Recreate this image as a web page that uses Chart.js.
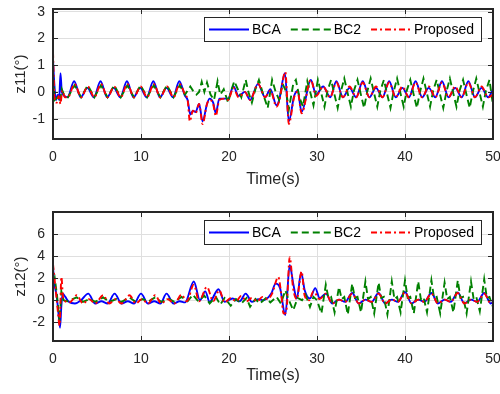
<!DOCTYPE html>
<html>
<head>
<title>z11 / z12 tracking errors</title>
<script src="https://cdn.jsdelivr.net/npm/chart.js"></script>
<style>
    body {
        margin: 0;
        background-color: #ffffff;
    }
    .wrap {
        position: absolute;
        left: 0;
        width: 500px;
        height: 197px;
    }
</style>
</head>
<body>
<div class="wrap" style="top:0px"><canvas id="topChart" width="500" height="197"></canvas></div>
<div class="wrap" style="top:197px"><canvas id="bottomChart" width="500" height="197"></canvas></div>
<script>
// ---- data: [time (s), value] ----
const seriesNames = ["BCA", "BC2", "Proposed"];
const xTicks = [0, 10, 20, 30, 40, 50];
const z11Ticks = [-1, 0, 1, 2, 3];
const z12Ticks = [-2, 0, 2, 4, 6];

// z11, BCA
const z11Bca = [[0,1.2],[0.15,0.3],[0.35,-0.3],[0.55,-0.1],[0.7,-0.3],[0.85,0.7],[1.0,0.0],[1.3,-0.15],[1.65,-0.2],
    [2.4,0.4],[3.15,-0.2],[3.9,0.15],[4.65,-0.2],[5.4,0.4],[6.15,-0.2],[6.9,0.15],[7.65,-0.2],[8.4,0.4],[9.15,-0.2],
    [9.9,0.15],[10.65,-0.2],[11.4,0.4],[12.15,-0.2],[12.9,0.15],[13.65,-0.2],[14.35,0.4],[15.0,-0.15],[15.3,-0.3],
    [15.6,-0.85],[15.9,-0.7],[16.2,-0.75],[16.6,-0.45],[17.0,-1.1],[17.5,-0.45],[17.8,-0.25],[18.2,-0.4],[18.5,-0.8],
    [18.9,-0.25],[19.5,-0.25],[19.9,-0.25],[20.5,0.2],[21.1,-0.15],[21.8,0.0],[22.4,-0.3],[23.3,0.3],[24.1,-0.2],
    [24.7,0.1],[25.4,-0.5],[25.7,-0.3],[26.35,0.7],[26.8,-1.1],[27.4,-0.15],[27.8,0.05],[28.25,-0.75],[29.3,0.45],
    [29.9,-0.1],[30.7,0.2],[31.5,-0.2],[32.2,0.4],[32.95,-0.2],[33.7,0.15],[34.45,-0.2],[35.2,0.4],[35.95,-0.2],
    [36.7,0.15],[37.45,-0.2],[38.2,0.4],[38.95,-0.2],[39.7,0.15],[40.45,-0.2],[41.2,0.4],[41.95,-0.2],[42.7,0.15],
    [43.45,-0.2],[44.2,0.4],[44.95,-0.2],[45.7,0.15],[46.45,-0.2],[47.2,0.4],[47.95,-0.2],[48.7,0.15],[49.45,-0.2],[50,0.1]];

// z11, BC2
const z11Bc2 = [[0,0.6],[0.2,-0.3],[0.5,-0.2],[0.8,-0.35],[1.0,0.1],[1.3,-0.15],[1.7,-0.2],[2.45,0.25],[3.2,-0.2],
    [3.95,0.25],[4.7,-0.2],[5.45,0.25],[6.2,-0.2],[6.95,0.25],[7.7,-0.2],[8.45,0.25],[9.2,-0.2],[9.95,0.25],[10.7,-0.2],
    [11.45,0.25],[12.2,-0.2],[12.95,0.25],[13.7,-0.2],[14.4,0.25],[15.0,-0.1],[15.6,0.2],[15.9,0.05],[16.3,-0.1],
    [16.6,0.0],[16.9,0.38],[17.2,0.0],[17.5,0.35],[17.9,-0.1],[18.3,-0.3],[18.7,0.4],[19.0,-0.1],[19.4,0.1],[19.9,-0.4],
    [20.3,0.1],[20.6,0.4],[21.0,0.1],[21.4,-0.2],[21.9,0.45],[22.2,0.0],[22.6,-0.4],[23.0,0.1],[23.4,0.45],[23.8,0.0],
    [24.4,-0.6],[24.9,0.45],[25.3,0.0],[25.7,-0.3],[26.1,0.3],[26.5,0.0],[26.8,-0.65],[27.3,0.3],[27.6,0.45],[28.0,-0.2],
    [28.4,-0.55],[28.9,0.4],[29.3,-0.1],[29.6,-0.5],[30.1,0.45],[30.45,0.0],[30.85,-0.55],[31.2,0.05],[31.6,0.45],
    [31.95,-0.05],[32.35,-0.6],[32.7,0.0],[33.1,0.5],[33.45,0.0],[33.85,-0.55],[34.2,0.05],[34.6,0.45],[34.95,-0.05],
    [35.35,-0.6],[35.7,0.0],[36.1,0.5],[36.45,0.0],[36.85,-0.55],[37.2,0.05],[37.6,0.45],[37.95,-0.05],[38.35,-0.6],
    [38.7,0.0],[39.1,0.5],[39.45,0.0],[39.85,-0.55],[40.2,0.05],[40.6,0.45],[40.95,-0.05],[41.35,-0.6],[41.7,0.0],
    [42.1,0.5],[42.45,0.0],[42.85,-0.55],[43.2,0.05],[43.6,0.45],[43.95,-0.05],[44.35,-0.6],[44.7,0.0],[45.1,0.5],
    [45.45,0.0],[45.85,-0.55],[46.2,0.05],[46.6,0.45],[46.95,-0.05],[47.35,-0.6],[47.7,0.0],[48.1,0.5],[48.45,0.0],
    [48.85,-0.55],[49.2,0.05],[49.6,0.45],[50,-0.5]];

// z11, Proposed
const z11Prop = [[0,1.5],[0.2,-0.35],[0.45,-0.4],[0.65,-0.15],[0.85,-0.45],[1.05,0.05],[1.35,-0.2],[1.7,-0.2],
    [2.45,0.3],[3.2,-0.2],[3.95,0.2],[4.7,-0.2],[5.45,0.3],[6.2,-0.2],[6.95,0.2],[7.7,-0.2],[8.45,0.3],[9.2,-0.2],
    [9.95,0.2],[10.7,-0.2],[11.45,0.3],[12.2,-0.2],[12.95,0.2],[13.7,-0.2],[14.4,0.3],[15.0,-0.1],[15.3,-0.3],
    [15.55,-1.1],[15.9,-0.7],[16.2,-0.8],[16.6,-0.45],[17.0,-1.2],[17.5,-0.45],[17.8,-0.3],[18.2,-0.45],[18.5,-0.9],
    [18.9,-0.3],[19.5,-0.25],[19.9,-0.3],[20.5,0.15],[21.1,-0.2],[21.8,0.0],[22.4,-0.3],[23.3,0.3],[24.1,-0.2],
    [24.7,0.05],[25.4,-0.55],[25.7,-0.35],[26.4,0.75],[26.8,-1.2],[27.4,-0.2],[27.8,0.0],[28.25,-0.8],[29.3,0.45],
    [29.9,-0.15],[30.7,0.2],[31.5,-0.2],[32.2,0.35],[32.95,-0.2],[33.7,0.2],[34.45,-0.2],[35.2,0.35],[35.95,-0.2],
    [36.7,0.2],[37.45,-0.2],[38.2,0.35],[38.95,-0.2],[39.7,0.2],[40.45,-0.2],[41.2,0.35],[41.95,-0.2],[42.7,0.2],
    [43.45,-0.2],[44.2,0.35],[44.95,-0.2],[45.7,0.2],[46.45,-0.2],[47.2,0.35],[47.95,-0.2],[48.7,0.2],[49.45,-0.2],[50,-0.1]];

// z12, BCA
const z12Bca = [[0,3.0],[0.15,1.5],[0.4,0.5],[0.6,-1.0],[0.8,-2.5],[0.95,-0.5],[1.1,0.6],[1.4,0.3],[1.8,-0.15],
    [2.5,-0.3],[3.2,0.0],[4.0,0.6],[4.8,-0.3],[5.5,-0.1],[6.2,-0.3],[7.0,0.6],[7.8,-0.3],[8.5,-0.1],[9.2,-0.3],
    [10.0,0.6],[10.8,-0.3],[11.5,-0.1],[12.2,-0.3],[12.9,0.6],[13.7,-0.3],[14.4,-0.1],[15.0,-0.2],[16.0,1.7],
    [16.7,0.0],[17.3,0.8],[17.8,-0.15],[18.8,1.0],[19.5,-0.15],[20.4,0.15],[21.2,-0.1],[21.9,0.6],[22.6,-0.15],
    [23.3,0.1],[23.9,0.0],[24.8,0.6],[25.3,1.5],[25.8,1.1],[26.4,-1.35],[26.9,3.2],[27.3,1.5],[27.7,0.15],[28.2,2.5],
    [28.6,0.9],[29.2,0.15],[29.8,1.1],[30.3,0.2],[31.0,0.6],[31.75,-0.3],[32.5,0.05],[33.2,-0.15],[34.0,0.65],
    [34.75,-0.3],[35.5,0.05],[36.2,-0.15],[37.0,0.65],[37.75,-0.3],[38.5,0.05],[39.2,-0.15],[40.0,0.75],[40.75,-0.3],
    [41.5,0.05],[42.2,-0.15],[43.0,0.65],[43.75,-0.3],[44.5,0.05],[45.2,-0.15],[46.0,0.7],[46.75,-0.3],[47.5,0.05],
    [48.2,-0.15],[49.0,0.65],[49.75,-0.3],[50,-0.1]];

// z12, BC2
const z12Bc2 = [[0,1.5],[0.2,2.0],[0.45,0.5],[0.75,-2.0],[0.95,0.8],[1.2,0.0],[1.6,-0.1],[2.7,0.25],[3.4,-0.15],
    [4.2,0.1],[4.8,-0.15],[5.7,0.25],[6.4,-0.15],[7.2,0.1],[7.8,-0.15],[8.7,0.25],[9.4,-0.15],[10.2,0.1],[10.8,-0.15],
    [11.6,0.25],[12.3,-0.15],[13.2,0.1],[13.8,-0.15],[14.6,0.3],[15.3,-0.1],[15.9,0.5],[16.5,-0.1],[17.2,0.4],
    [17.8,-0.3],[18.5,0.3],[19.0,-0.4],[19.5,0.2],[20.2,-0.5],[20.8,0.1],[21.4,-0.3],[22.0,0.2],[22.4,-0.6],[23.0,0.1],
    [23.5,-0.3],[24.2,0.2],[24.7,-0.2],[25.4,0.3],[25.9,-0.3],[26.4,0.9],[26.8,0.0],[27.3,-0.9],[27.8,0.2],[28.3,0.0],
    [28.7,0.5],[29.2,-0.6],[29.6,0.3],[30.0,0.0],[30.5,-1.2],[31.0,1.4],[31.3,0.2],[31.6,0.3],[32.0,-1.1],[32.5,1.2],
    [32.8,0.1],[33.1,0.3],[33.5,-1.3],[34.0,1.5],[34.3,0.2],[34.6,0.3],[35.0,-1.1],[35.5,1.7],[35.8,0.1],[36.1,0.3],
    [36.5,-1.2],[37.0,1.6],[37.3,0.2],[37.6,0.3],[38.0,-1.3],[38.5,1.7],[38.8,0.1],[39.1,0.3],[39.5,-1.1],[40.0,1.8],
    [40.3,0.2],[40.6,0.3],[41.0,-1.2],[41.5,1.7],[41.8,0.1],[42.1,0.3],[42.5,-1.1],[43.0,1.8],[43.3,0.2],[43.6,0.3],
    [44.0,-1.2],[44.5,1.6],[44.8,0.1],[45.1,0.3],[45.5,-1.1],[46.0,1.8],[46.3,0.2],[46.6,0.3],[47.0,-1.2],[47.5,1.7],
    [47.8,0.1],[48.1,0.3],[48.5,-1.0],[49.0,1.9],[49.3,0.2],[49.6,0.3],[50,-0.6]];

// z12, Proposed
const z12Prop = [[0,3.3],[0.1,2.5],[0.3,1.0],[0.55,-1.0],[0.75,-2.3],[0.95,2.1],[1.15,0.2],[1.4,-0.1],[1.9,-0.2],
    [2.7,0.45],[3.4,-0.3],[4.1,0.1],[4.8,-0.3],[5.7,0.45],[6.4,-0.3],[7.1,0.1],[7.8,-0.3],[8.7,0.45],[9.4,-0.3],
    [10.1,0.1],[10.8,-0.3],[11.6,0.45],[12.3,-0.3],[13.0,0.1],[13.8,-0.3],[14.6,0.5],[15.2,-0.1],[16.0,1.4],
    [16.6,-0.1],[17.5,1.2],[18.2,-0.1],[18.9,0.9],[19.5,-0.2],[20.2,0.2],[20.8,-0.1],[21.4,0.4],[22.0,-0.1],[22.6,0.2],
    [23.2,-0.1],[23.8,0.3],[24.4,0.1],[24.9,0.6],[25.6,2.1],[25.9,0.8],[26.2,-1.2],[26.5,-1.1],[26.9,3.9],[27.3,1.0],
    [27.7,0.1],[28.25,2.6],[28.6,0.4],[29.1,0.0],[29.6,0.8],[30.3,0.1],[31.0,0.6],[31.75,-0.3],[32.5,0.05],[33.2,-0.15],
    [34.0,0.6],[34.75,-0.3],[35.5,0.05],[36.2,-0.15],[37.0,0.6],[37.75,-0.3],[38.5,0.05],[39.2,-0.15],[40.0,0.7],
    [40.75,-0.3],[41.5,0.05],[42.2,-0.15],[43.0,0.6],[43.75,-0.3],[44.5,0.05],[45.2,-0.15],[46.0,0.65],[46.75,-0.3],
    [47.5,0.05],[48.2,-0.15],[49.0,0.6],[49.75,-0.3],[50,-0.2]];

// ---- styles ----
const ink = "#262626";
const fontFamily = "'Liberation Sans', Arial, sans-serif";
const lineStyles = [
    { color: "#0000ff", dash: [], order: 3 },
    { color: "#008000", dash: [7, 4], order: 2 },
    { color: "#ff0000", dash: [6, 3, 2, 3], order: 1 }
];

function toPoints(arr) {
    return arr.map(p => ({ x: p[0], y: p[1] }));
}

// box, inward ticks and legend, MATLAB style
const boxPlugin = {
    id: "box",
    afterDatasetsDraw(chart) {
        const { ctx, chartArea: a, scales } = chart;
        ctx.save();
        ctx.strokeStyle = ink;
        ctx.lineWidth = 1;
        ctx.setLineDash([]);
        const tl = 5;
        ctx.beginPath();
        scales.x.ticks.forEach(t => {
            const px = Math.round(scales.x.getPixelForValue(t.value)) + 0.5;
            ctx.moveTo(px, a.bottom); ctx.lineTo(px, a.bottom - tl);
            ctx.moveTo(px, a.top); ctx.lineTo(px, a.top + tl);
        });
        scales.y.ticks.forEach(t => {
            const py = Math.round(scales.y.getPixelForValue(t.value)) + 0.5;
            ctx.moveTo(a.left, py); ctx.lineTo(a.left + tl, py);
            ctx.moveTo(a.right, py); ctx.lineTo(a.right - tl, py);
        });
        ctx.stroke();
        ctx.lineWidth = 2;
        ctx.strokeRect(a.left, a.top, a.right - a.left, a.bottom - a.top);

        // legend
        ctx.font = "14px " + fontFamily;
        const sample = 40, gapText = 3, gapItem = 10, padL = 5, padR = 7;
        let w = padL;
        const widths = chart.data.datasets.map(d => ctx.measureText(d.label).width);
        widths.forEach((tw, i) => { w += sample + gapText + tw + (i < widths.length - 1 ? gapItem : 0); });
        w = Math.round(w + padR);
        const bh = 24;
        const bx = Math.round(a.right - 12 - w), by = Math.round(a.top + 8);
        ctx.fillStyle = "#ffffff";
        ctx.fillRect(bx, by, w, bh);
        ctx.lineWidth = 1;
        ctx.strokeStyle = ink;
        ctx.strokeRect(bx + 0.5, by + 0.5, w, bh);
        let x = bx + padL;
        const cy = by + bh / 2 + 0.5;
        ctx.textBaseline = "middle";
        chart.data.datasets.forEach((d, i) => {
            ctx.beginPath();
            ctx.strokeStyle = d.borderColor;
            ctx.lineWidth = 1.8;
            ctx.setLineDash(d.borderDash);
            ctx.moveTo(x, cy); ctx.lineTo(x + sample, cy);
            ctx.stroke();
            ctx.setLineDash([]);
            ctx.fillStyle = "#000000";
            ctx.fillText(d.label, x + sample + gapText, cy + 1);
            x += sample + gapText + widths[i] + gapItem;
        });
        ctx.restore();
    }
};

function buildChart(id, series, yMin, yMax, yTickVals, yTitle, padTop, xHeight, titlePad) {
    const datasets = series.map((s, i) => ({
        label: seriesNames[i],
        data: toPoints(s),
        borderColor: lineStyles[i].color,
        borderDash: lineStyles[i].dash,
        borderWidth: 1.9,
        pointRadius: 0,
        fill: false,
        cubicInterpolationMode: i === 1 ? "default" : "monotone",
        tension: 0,
        order: lineStyles[i].order
    }));
    return new Chart(document.getElementById(id), {
        type: "line",
        data: { datasets: datasets },
        options: {
            responsive: false,
            animation: false,
            events: [],
            layout: { padding: { top: padTop, right: 7, left: 0, bottom: 0 } },
            plugins: { legend: { display: false }, tooltip: { enabled: false } },
            scales: {
                x: {
                    type: "linear",
                    min: 0,
                    max: 50,
                    afterBuildTicks: s => { s.ticks = xTicks.map(v => ({ value: v })); },
                    afterFit: s => { s.height = xHeight; s.paddingLeft = 0; s.paddingRight = 0; },
                    grid: { color: "#dfdfdf", drawTicks: false },
                    border: { display: false },
                    ticks: { padding: 10, maxRotation: 0, color: ink, font: { family: fontFamily, size: 14 } },
                    title: { display: true, text: "Time(s)", color: ink, font: { family: fontFamily, size: 16 }, padding: { top: 0, bottom: titlePad } }
                },
                y: {
                    type: "linear",
                    min: yMin,
                    max: yMax,
                    afterBuildTicks: s => { s.ticks = yTickVals.map(v => ({ value: v })); },
                    afterFit: s => { s.width = 53; s.paddingTop = 0; s.paddingBottom = 0; },
                    grid: { color: "#dfdfdf", drawTicks: false },
                    border: { display: false },
                    ticks: { padding: 8, color: ink, font: { family: fontFamily, size: 14 } },
                    title: { display: true, text: yTitle, color: ink, font: { family: fontFamily, size: 15 }, padding: { top: 12, bottom: 0 } }
                }
            }
        },
        plugins: [boxPlugin]
    });
}

buildChart("topChart", [z11Bca, z11Bc2, z11Prop], -1.76, 3.1, z11Ticks, "z11(°)", 9, 58, 8);
buildChart("bottomChart", [z12Bca, z12Bc2, z12Prop], -3.7, 8, z12Ticks, "z12(°)", 15, 53, 9);
</script>
</body>
</html>
